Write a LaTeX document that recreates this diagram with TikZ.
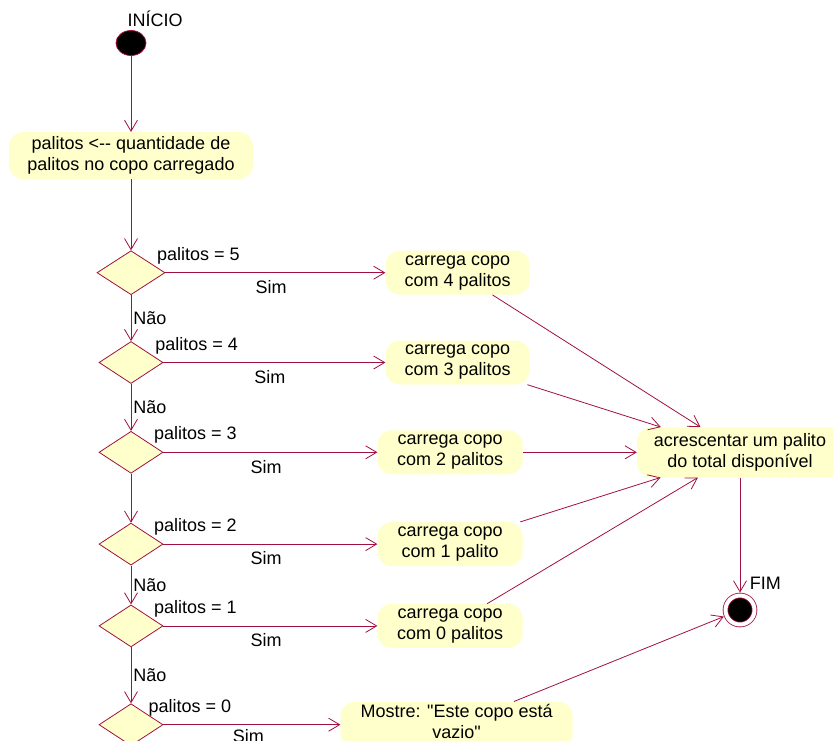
\documentclass[tikz,border=0pt]{standalone}
\usepackage{fontspec}
\newfontfamily\uifont{Liberation Sans}
\usetikzlibrary{positioning, arrows.meta, shapes.geometric}
\definecolor{umlline}{RGB}{160,16,64}
\definecolor{umlfill}{RGB}{255,255,204}
\newcommand{\lbl}{\uifont\fontsize{18}{21}\selectfont}

\begin{document}
\begin{tikzpicture}[
  x=1pt, y=-1pt, font=\lbl,
  act/.style={fill=umlfill, rounded corners=14pt, align=center, inner sep=0pt,
              minimum height=44pt, minimum width=145pt},
  cond/.style={diamond, draw=umlline, fill=umlfill, line width=0.8pt,
               minimum width=64pt, minimum height=42pt, inner sep=0pt},
  arr/.style={-{Straight Barb[length=11pt, width=13pt]}, draw=umlline, line width=0.8pt},
  nao/.style={right, inner sep=2pt},
  cnd/.style={pos=0.15, above=5pt},
  sim/.style={pos=0.48, below=4pt}
]
\useasboundingbox (0,0) rectangle (833,740);
\clip (0,0) rectangle (833,740);
\node[ellipse, draw=umlline, fill=black, line width=0.8pt, minimum width=30pt,
      minimum height=25pt, inner sep=0pt, label={[xshift=24pt]above:INÍCIO}] (inicio) at (131,43) {};
\node[act, below=76pt of inicio, minimum width=244pt, minimum height=47pt] (carga)
  {palitos <-- quantidade de\\palitos no copo carregado};
\node[cond, below=71pt of carga, minimum width=68pt, minimum height=44pt] (d5) {};
\node[cond, below=46pt of d5] (d4) {};
\node[cond, below=47pt of d4] (d3) {};
\node[cond, below=49pt of d3] (d2) {};
\node[cond, below=39pt of d2] (d1) {};
\node[cond, below=56pt of d1] (d0) {};
\node[act, right=220pt of d5, minimum width=144pt] (b4) {carrega copo\\com 4 palitos};
\node[act, right=222pt of d4, minimum width=144pt] (b3) {carrega copo\\com 3 palitos};
\node[act, right=214pt of d3] (b2) {carrega copo\\com 2 palitos};
\node[act, right=214pt of d2] (b1) {carrega copo\\com 1 palito};
\node[act, right=214pt of d1] (b0) {carrega copo\\com 0 palitos};
\node[act, right=177pt of d0, minimum width=232pt, minimum height=46pt, text depth=7pt] (vazio)
  {Mostre: "Este copo está\\vazio"};
\node[act, right=114pt of b2, minimum width=206pt, minimum height=50pt] (acr)
  {acrescentar um palito\\do total disponível};
\node[circle, draw=umlline, double=white, double distance=4pt, fill=black, line width=0.8pt,
      minimum size=29pt, inner sep=0pt, outer sep=3pt, below=115pt of acr,
      label={[xshift=-6pt, yshift=5pt]above right:FIM}] (fim) {};
\draw[arr] (inicio) -- (carga);
\draw[arr] (carga) -- (d5);
\draw[arr] (d5) -- node[nao] {Não} (d4);
\draw[arr] (d4) -- node[nao] {Não} (d3);
\draw[arr] (d3) -- (d2);
\draw[arr] (d2) -- node[nao] {Não} (d1);
\draw[arr] (d1) -- node[nao] {Não} (d0);
\draw[arr] (d5) -- node[cnd] {palitos = 5} node[sim] {Sim} (b4);
\draw[arr] (d4) -- node[cnd] {palitos = 4} node[sim] {Sim} (b3);
\draw[arr] (d3) -- node[cnd] {palitos = 3} node[sim] {Sim} (b2);
\draw[arr] (d2) -- node[cnd] {palitos = 2} node[sim] {Sim} (b1);
\draw[arr] (d1) -- node[cnd] {palitos = 1} node[sim] {Sim} (b0);
\draw[arr] (d0) -- node[cnd] {palitos = 0} node[pos=0.48, below=1pt] {Sim} (vazio);
\draw[arr] (b4) -- (acr);
\draw[arr] (b3) -- (acr);
\draw[arr] (b2) -- (acr);
\draw[arr] (b1) -- (acr);
\draw[arr] (b0) -- (acr);
\draw[arr] (acr) -- (fim);
\draw[arr] (vazio) -- (fim);
\end{tikzpicture}
\end{document}
